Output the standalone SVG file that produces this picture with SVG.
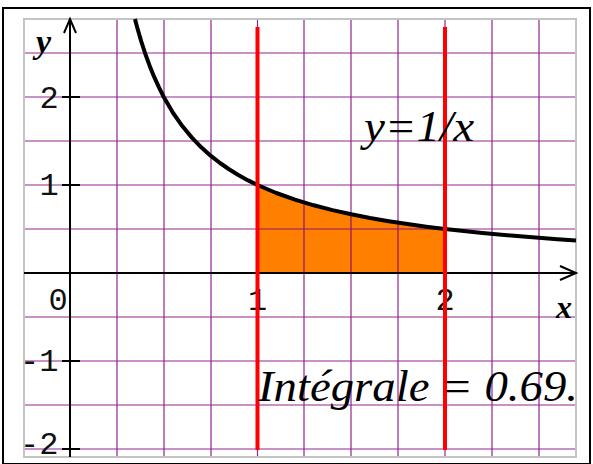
<svg xmlns="http://www.w3.org/2000/svg" width="593" height="464" viewBox="0 0 593 464">
<style>
.grid{stroke:#800080;stroke-width:1.2;fill:none;opacity:0.85}
.axis{stroke:#000;stroke-width:2;fill:none}
.num{font-family:"Liberation Mono","Courier New",monospace;font-size:32px;fill:#111}
.lbl{font-family:"Times New Roman","Liberation Serif",serif;font-style:italic;font-weight:bold;fill:#000}
.eq{font-family:"Times New Roman","Liberation Serif",serif;font-style:italic;fill:#000}
.red{stroke:#ff0000;stroke-width:4}
</style>
<rect x="0" y="0" width="593" height="464" fill="#fff"/>
<rect x="3" y="8" width="587" height="456" fill="none" stroke="#000" stroke-width="2"/>
<g id="area">
<polygon fill="#ff8000" points="257.5,273 257.5,185 276.25,193 295,199.7 313.75,205.3 332.5,210.1 351.25,214.3 370,218 388.75,221.2 407.5,224.1 426.25,226.7 445,229 445,273"/>
</g>
<g id="grid" class="grid">
<path d="M117,19V457M164,19V457M211,19V457M257.5,19V457M304,19V457M351,19V457M398,19V457M445,19V457M492,19V457M539,19V457"/>
<path d="M24,53H576M24,97H576M24,141H576M24,185H576M24,229H576M24,317H576M24,361H576M24,405H576M24,449H576"/>
</g>
<rect x="24" y="19" width="552" height="438" fill="none" stroke="#c4c4c4" stroke-width="2"/>
<g id="axes">
<path class="axis" d="M24,273H576M560,266L576,273L560,280"/>
<path class="axis" d="M70,457V20M64,33L70,19L76,33"/>
<path class="axis" stroke-width="1.5" d="M62,97H80M62,185H80M62,361H80M62,449H80"/>
</g>
<g id="curve">
<polyline fill="none" stroke="#000" stroke-width="4" stroke-linejoin="round" points="135,19 135.6,21.6 137.5,28.6 141.25,41.4 145,53 149.7,65.9 154.4,77.4 159.1,87.7 163.75,97 173.1,113 182.5,126.3 191.9,137.6 201.25,147.3 210.6,155.7 220,163 229.4,169.5 238.75,175.2 248.1,180.4 257.5,185 276.25,193 295,199.7 313.75,205.3 332.5,210.1 351.25,214.3 370,218 388.75,221.2 407.5,224.1 426.25,226.7 445,229 482.5,233 520,236.3 557.5,239.2 576,240.4"/>
</g>
<g id="labels">
<text class="num" x="39.4" y="108">2</text>
<text class="num" x="39.4" y="195">1</text>
<text class="num" x="20" y="371">-1</text>
<text class="num" x="20" y="454">-2</text>
<text class="num" x="48.4" y="310">0</text>
<text class="num" x="247.9" y="310">1</text>
<text class="num" x="435.4" y="310">2</text>
<text class="lbl" x="556" y="318" font-size="32">x</text>
<text class="lbl" x="36" y="53" font-size="34">y</text>
</g>
<g id="limits">
<line class="red" x1="257.5" y1="27" x2="257.5" y2="450"/>
<line class="red" x1="445" y1="27" x2="445" y2="450"/>
</g>
<g id="texts">
<text class="eq" x="364" y="141" font-size="44" textLength="110" lengthAdjust="spacingAndGlyphs">y=1/x</text>
<text class="eq" x="258" y="401" font-size="44" textLength="320" lengthAdjust="spacingAndGlyphs">Intégrale = 0.69.</text>
</g>
</svg>
